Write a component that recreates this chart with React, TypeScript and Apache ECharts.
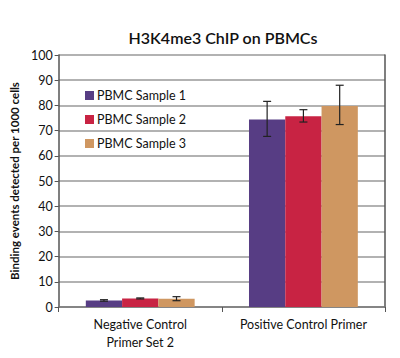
import React, { useEffect, useRef } from "react";
import * as echarts from "echarts";

const categories = ["Negative Control\nPrimer Set 2", "Positive Control Primer"];
const seriesNames = ["PBMC Sample 1", "PBMC Sample 2", "PBMC Sample 3"];
const colors = ["#573d84", "#c82343", "#cf9761"];
const sample1 = [2.6, 74.4];
const sample2 = [3.4, 75.7];
const sample3 = [3.3, 79.8];
const err1Low = [2.3, 67.7];
const err1High = [2.9, 81.6];
const err2Low = [3.2, 73.4];
const err2High = [3.6, 78.3];
const err3Low = [2.5, 72.4];
const err3High = [4.1, 88.0];
const yTicks = [0, 10, 20, 30, 40, 50, 60, 70, 80, 90, 100];

const FONT = "Lato, 'Open Sans', sans-serif";

export default function App() {
  const ref = useRef<HTMLDivElement>(null);
  useEffect(() => {
    if (!ref.current) return;
    const chart = echarts.init(ref.current, undefined, { renderer: "svg" });
    const values = [sample1, sample2, sample3];
    const lows = [err1Low, err2Low, err3Low];
    const highs = [err1High, err2High, err3High];
    const gapRatio = 0.333;

    const barSeries = seriesNames.map((name, i) => ({
      name,
      type: "bar",
      data: values[i],
      itemStyle: { color: colors[i] },
      barGap: "0%",
      barCategoryGap: "33.3%",
      z: 2,
    }));

    const errSeries = seriesNames.map((name, i) => ({
      name: name + " err",
      type: "custom",
      z: 5,
      data: categories.map((_, c) => [c, lows[i][c], highs[i][c]]),
      renderItem: (params: any, api: any) => {
        const c = api.value(0);
        const band = api.size([1, 0])[0];
        const bw = (band * (1 - gapRatio)) / 3;
        const center = api.coord([c, 0])[0];
        const x = center + (i - 1) * bw;
        const yLow = api.coord([c, api.value(1)])[1];
        const yHigh = api.coord([c, api.value(2)])[1];
        const cap = 4;
        const style = { stroke: "#222", lineWidth: 1.2 };
        return {
          type: "group",
          children: [
            { type: "line", shape: { x1: x, y1: yLow, x2: x, y2: yHigh }, style },
            { type: "line", shape: { x1: x - cap, y1: yLow, x2: x + cap, y2: yLow }, style },
            { type: "line", shape: { x1: x - cap, y1: yHigh, x2: x + cap, y2: yHigh }, style },
          ],
        };
      },
    }));

    chart.setOption({
      animation: false,
      title: {
        text: "H3K4me3 ChIP on PBMCs",
        left: 218,
        textAlign: "center",
        top: 24,
        textStyle: { fontFamily: FONT, fontSize: 16, fontWeight: 600, color: "#111" },
      },
      legend: {
        data: seriesNames,
        orient: "vertical",
        left: 80,
        top: 84,
        itemWidth: 9,
        itemHeight: 9,
        itemGap: 11,
        icon: "rect",
        textStyle: { fontFamily: FONT, fontSize: 12.5, color: "#111", padding: [0, 0, 0, -2] },
      },
      grid: { left: 52, right: 15, top: 55, bottom: 51 },
      xAxis: {
        type: "category",
        data: categories,
        axisLine: { show: true, lineStyle: { color: "#777", width: 1.5 } },
        axisTick: { show: true, alignWithLabel: false, length: 5, lineStyle: { color: "#555" } },
        axisLabel: {
          interval: 0,
          fontFamily: FONT,
          fontSize: 12.5,
          color: "#111",
          lineHeight: 18,
          margin: 8,
        },
      },
      yAxis: [
        {
          type: "value",
          min: 0,
          max: 100,
          interval: 10,
          name: "Binding events detected per 1000 cells",
          nameLocation: "middle",
          nameGap: 34,
          nameTextStyle: { fontFamily: FONT, fontSize: 11.5, fontWeight: "bold", color: "#111" },
          axisLine: { show: true, lineStyle: { color: "#555", width: 1.5 } },
          axisTick: { show: true, length: 4, lineStyle: { color: "#555" } },
          axisLabel: {
            fontFamily: FONT,
            fontSize: 12.5,
            color: "#111",
            margin: 6,
            formatter: (v: number) => (yTicks.includes(v) ? String(v) : ""),
          },
          splitLine: { show: true, lineStyle: { color: "#999", width: 1.5 } },
        },
        {
          type: "value",
          min: 0,
          max: 100,
          interval: 10,
          position: "right",
          axisLine: { show: true, lineStyle: { color: "#555", width: 1.5 } },
          axisTick: { show: false },
          axisLabel: { show: false },
          splitLine: { show: false },
        },
      ],
      series: [...barSeries, ...errSeries],
    });
    return () => chart.dispose();
  }, []);
  return <div ref={ref} style={{ width: 400, height: 358, position: "absolute", left: 0, top: 0 }} />;
}
